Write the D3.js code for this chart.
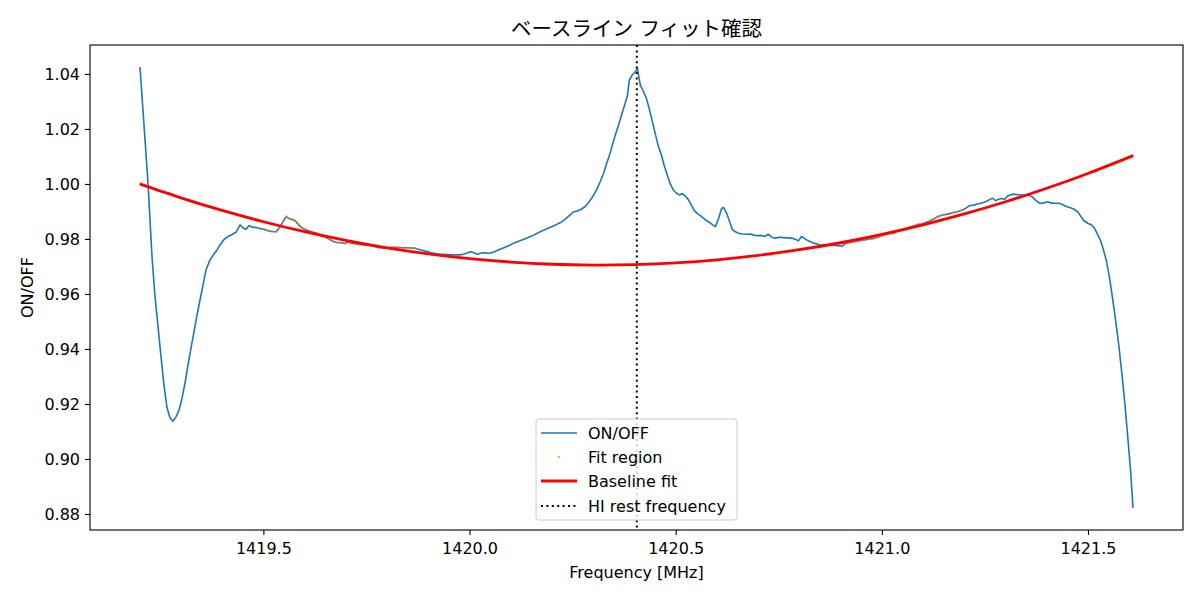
<!DOCTYPE html>
<html><head><meta charset="utf-8">
<script src="https://cdn.jsdelivr.net/npm/d3@7"></script>
<style>
html,body{margin:0;padding:0;background:#fff;}
text{font-family:"DejaVu Sans","Noto Sans CJK JP",sans-serif;}
</style></head>
<body><svg id="chart" width="1200" height="600"></svg>
<script>
// ---- data ----
const freq = [1419.2007,1419.2104,1419.2201,1419.2298,1419.2371,1419.2444,1419.2517,1419.2590,1419.2662,1419.2735,1419.2808,1419.2881,1419.2954,1419.3027,1419.3099,1419.3172,1419.3245,1419.3318,1419.3391,1419.3463,1419.3536,1419.3609,1419.3706,1419.3803,1419.3876,1419.3949,1419.4046,1419.4143,1419.4240,1419.4337,1419.4434,1419.4507,1419.4580,1419.4653,1419.4726,1419.4823,1419.4920,1419.5017,1419.5114,1419.5211,1419.5308,1419.5405,1419.5478,1419.5551,1419.5624,1419.5696,1419.5769,1419.5842,1419.5915,1419.6012,1419.6109,1419.6206,1419.6303,1419.6400,1419.6497,1419.6594,1419.6691,1419.6789,1419.6886,1419.6983,1419.7056,1419.7128,1419.7225,1419.7323,1419.7420,1419.7517,1419.7614,1419.7711,1419.7808,1419.7905,1419.8002,1419.8099,1419.8196,1419.8293,1419.8391,1419.8488,1419.8585,1419.8682,1419.8779,1419.8876,1419.8973,1419.9070,1419.9167,1419.9264,1419.9361,1419.9459,1419.9556,1419.9653,1419.9750,1419.9847,1419.9944,1420.0017,1420.0090,1420.0187,1420.0284,1420.0381,1420.0478,1420.0575,1420.0672,1420.0769,1420.0866,1420.0963,1420.1061,1420.1158,1420.1255,1420.1352,1420.1449,1420.1546,1420.1643,1420.1740,1420.1837,1420.1934,1420.2031,1420.2128,1420.2226,1420.2323,1420.2420,1420.2517,1420.2614,1420.2711,1420.2808,1420.2905,1420.3002,1420.3099,1420.3172,1420.3245,1420.3318,1420.3391,1420.3463,1420.3536,1420.3609,1420.3682,1420.3755,1420.3827,1420.3876,1420.3949,1420.4022,1420.4070,1420.4143,1420.4216,1420.4289,1420.4361,1420.4434,1420.4507,1420.4580,1420.4653,1420.4726,1420.4798,1420.4871,1420.4944,1420.5017,1420.5090,1420.5162,1420.5235,1420.5308,1420.5381,1420.5454,1420.5527,1420.5599,1420.5672,1420.5745,1420.5818,1420.5891,1420.5963,1420.6036,1420.6109,1420.6158,1420.6230,1420.6303,1420.6376,1420.6449,1420.6522,1420.6619,1420.6716,1420.6813,1420.6910,1420.7007,1420.7080,1420.7153,1420.7250,1420.7347,1420.7420,1420.7517,1420.7614,1420.7711,1420.7808,1420.7905,1420.7978,1420.8051,1420.8124,1420.8196,1420.8293,1420.8391,1420.8488,1420.8585,1420.8682,1420.8779,1420.8876,1420.8973,1420.9046,1420.9119,1420.9216,1420.9313,1420.9410,1420.9507,1420.9604,1420.9701,1420.9798,1420.9895,1420.9992,1421.0090,1421.0187,1421.0284,1421.0381,1421.0478,1421.0575,1421.0672,1421.0769,1421.0866,1421.0963,1421.1060,1421.1158,1421.1255,1421.1352,1421.1449,1421.1546,1421.1643,1421.1740,1421.1837,1421.1934,1421.2031,1421.2128,1421.2226,1421.2323,1421.2420,1421.2517,1421.2614,1421.2687,1421.2760,1421.2832,1421.2905,1421.2978,1421.3051,1421.3124,1421.3196,1421.3294,1421.3391,1421.3488,1421.3585,1421.3658,1421.3730,1421.3803,1421.3876,1421.3949,1421.4022,1421.4094,1421.4192,1421.4289,1421.4386,1421.4459,1421.4556,1421.4653,1421.4750,1421.4823,1421.4896,1421.4993,1421.5090,1421.5162,1421.5235,1421.5308,1421.5381,1421.5454,1421.5527,1421.5599,1421.5672,1421.5745,1421.5818,1421.5891,1421.5963,1421.6036,1421.6092];
const onOff = [1.0425,1.0216,1.0005,0.9738,0.9591,0.9483,0.9372,0.9268,0.9187,0.9149,0.9137,0.9153,0.9177,0.9221,0.9276,0.9341,0.9403,0.9463,0.9523,0.9578,0.9633,0.9687,0.9724,0.9745,0.9760,0.9778,0.9798,0.9809,0.9816,0.9825,0.9851,0.9840,0.9835,0.9849,0.9843,0.9842,0.9838,0.9835,0.9830,0.9827,0.9826,0.9844,0.9863,0.9881,0.9874,0.9871,0.9866,0.9854,0.9843,0.9834,0.9829,0.9824,0.9820,0.9812,0.9807,0.9800,0.9791,0.9787,0.9786,0.9784,0.9789,0.9785,0.9783,0.9780,0.9778,0.9777,0.9775,0.9773,0.9768,0.9768,0.9768,0.9769,0.9770,0.9769,0.9768,0.9768,0.9767,0.9766,0.9762,0.9758,0.9754,0.9750,0.9747,0.9745,0.9744,0.9743,0.9742,0.9742,0.9742,0.9744,0.9749,0.9754,0.9751,0.9744,0.9749,0.9750,0.9748,0.9752,0.9758,0.9764,0.9770,0.9776,0.9784,0.9790,0.9795,0.9801,0.9807,0.9813,0.9821,0.9828,0.9834,0.9841,0.9847,0.9854,0.9861,0.9872,0.9885,0.9898,0.9902,0.9908,0.9918,0.9936,0.9957,0.9985,1.0009,1.0036,1.0071,1.0103,1.0141,1.0178,1.0212,1.0248,1.0283,1.0319,1.0377,1.0397,1.0408,1.0420,1.0359,1.0337,1.0312,1.0272,1.0228,1.0181,1.0137,1.0105,1.0065,1.0032,0.9999,0.9978,0.9967,0.9960,0.9965,0.9956,0.9943,0.9923,0.9903,0.9892,0.9885,0.9876,0.9867,0.9860,0.9852,0.9845,0.9872,0.9909,0.9915,0.9896,0.9865,0.9834,0.9826,0.9821,0.9818,0.9817,0.9818,0.9813,0.9812,0.9813,0.9809,0.9817,0.9805,0.9803,0.9806,0.9805,0.9804,0.9803,0.9799,0.9793,0.9809,0.9802,0.9795,0.9788,0.9783,0.9779,0.9778,0.9778,0.9777,0.9776,0.9775,0.9774,0.9784,0.9787,0.9790,0.9792,0.9795,0.9797,0.9800,0.9802,0.9806,0.9812,0.9816,0.9820,0.9821,0.9829,0.9833,0.9838,0.9843,0.9847,0.9852,0.9854,0.9859,0.9865,0.9872,0.9881,0.9886,0.9889,0.9892,0.9896,0.9899,0.9904,0.9911,0.9921,0.9923,0.9927,0.9931,0.9935,0.9943,0.9948,0.9939,0.9944,0.9947,0.9944,0.9956,0.9961,0.9963,0.9961,0.9960,0.9960,0.9958,0.9952,0.9941,0.9932,0.9929,0.9932,0.9935,0.9931,0.9930,0.9930,0.9925,0.9919,0.9914,0.9909,0.9899,0.9883,0.9867,0.9857,0.9851,0.9838,0.9816,0.9793,0.9758,0.9716,0.9655,0.9582,0.9502,0.9418,0.9317,0.9208,0.9084,0.8953,0.8822];
// frequency windows used for the baseline fit
const fitRanges = [[1419.50, 1419.87], [1420.90, 1421.20]];
// baseline fit curve
const fitFreq = [1419.20,1419.30,1419.40,1419.50,1419.60,1419.70,1419.80,1419.90,1420.00,1420.10,1420.20,1420.30,1420.40,1420.50,1420.60,1420.70,1420.80,1420.90,1421.00,1421.10,1421.20,1421.30,1421.40,1421.50,1421.61];
const fitVal = [1.0000,0.99495,0.99037,0.98626,0.98263,0.97948,0.97679,0.97459,0.97285,0.97160,0.97081,0.97050,0.97067,0.97131,0.97243,0.97402,0.97608,0.97862,0.98163,0.98512,0.98909,0.99352,0.99844,1.00382,1.0103];
const hiRest = 1420.40575;
const xTicks = [1419.5, 1420.0, 1420.5, 1421.0, 1421.5];
const yTicks = [0.88, 0.90, 0.92, 0.94, 0.96, 0.98, 1.00, 1.02, 1.04];
const legendLabels = ["ON/OFF", "Fit region", "Baseline fit", "HI rest frequency"];
const titleText = "ベースライン フィット確認";

// ---- layout ----
const svg = d3.select("#chart");
const L = 90, R = 1183, T = 45, B = 530;
const FS = 16;

const allX = freq.concat(fitFreq);
const allY = onOff.concat(fitVal);
const [x0, x1] = d3.extent(allX), [y0, y1] = d3.extent(allY);
const mx = (x1 - x0) * 0.05, my = (y1 - y0) * 0.05;
const x = d3.scaleLinear().domain([x0 - mx, x1 + mx]).range([L, R]);
const y = d3.scaleLinear().domain([y0 - my, y1 + my]).range([B, T]);

const pts = freq.map((f, i) => ({f, v: onOff[i]}));
const fitPts = pts.filter(p => fitRanges.some(r => p.f >= r[0] && p.f <= r[1]));

const g = svg.append("g");
g.append("path").datum(pts)
  .attr("d", d3.line().x(d => x(d.f)).y(d => y(d.v)))
  .attr("fill", "none").attr("stroke", "#1f77b4").attr("stroke-width", 1.6)
  .attr("stroke-linejoin", "round");

g.selectAll("circle.fit").data(fitPts).enter().append("circle")
  .attr("class", "fit").attr("cx", d => x(d.f)).attr("cy", d => y(d.v))
  .attr("r", 1.3).attr("fill", "#ff7f0e").attr("fill-opacity", 0.65);

g.append("path").datum(fitFreq.map((f, i) => ({f, v: fitVal[i]})))
  .attr("d", d3.line().curve(d3.curveNatural).x(d => x(d.f)).y(d => y(d.v)))
  .attr("fill", "none").attr("stroke", "red").attr("stroke-width", 2.8);

g.append("line").attr("x1", x(hiRest)).attr("x2", x(hiRest)).attr("y1", T).attr("y2", B)
  .attr("stroke", "black").attr("stroke-width", 2).attr("stroke-dasharray", "2,3.4");

// axes
const xa = svg.append("g").attr("transform", `translate(0,${B})`)
  .call(d3.axisBottom(x).tickValues(xTicks).tickFormat(d3.format(".1f")).tickSizeOuter(0).tickSize(5).tickPadding(8));
const ya = svg.append("g").attr("transform", `translate(${L},0)`)
  .call(d3.axisLeft(y).tickValues(yTicks).tickFormat(d3.format(".2f")).tickSizeOuter(0).tickSize(5).tickPadding(5));
[xa, ya].forEach(a => {
  a.select(".domain").remove();
  a.selectAll("line").attr("stroke", "black").attr("stroke-width", 1.1);
  a.selectAll("text").attr("font-size", FS).attr("fill", "#000")
    .attr("font-family", '"DejaVu Sans",sans-serif');
});
svg.append("rect").attr("x", L).attr("y", T).attr("width", R - L).attr("height", B - T)
  .attr("fill", "none").attr("stroke", "black").attr("stroke-width", 1.1);

// labels
svg.append("text").attr("x", (L + R) / 2).attr("y", 36).attr("text-anchor", "middle")
  .attr("font-family", '"Noto Sans CJK JP",sans-serif')
  .attr("font-size", 20.5).text(titleText);
svg.append("text").attr("x", (L + R) / 2).attr("y", 578).attr("text-anchor", "middle")
  .attr("font-size", FS).text("Frequency [MHz]");
svg.append("text").attr("transform", `translate(33,${(T + B) / 2}) rotate(-90)`)
  .attr("text-anchor", "middle").attr("font-size", FS).text("ON/OFF");

// legend
const lg = svg.append("g").attr("transform", "translate(536,419)");
lg.append("rect").attr("width", 201).attr("height", 101).attr("rx", 3)
  .attr("fill", "white").attr("fill-opacity", 0.8).attr("stroke", "#cccccc").attr("stroke-width", 1);
const rows = [14, 38, 62, 87];
lg.append("line").attr("x1", 5).attr("x2", 41).attr("y1", rows[0]).attr("y2", rows[0])
  .attr("stroke", "#1f77b4").attr("stroke-width", 1.6);
lg.append("circle").attr("cx", 23).attr("cy", rows[1]).attr("r", 1.3).attr("fill", "#ff7f0e").attr("fill-opacity", 0.65);
lg.append("line").attr("x1", 5).attr("x2", 41).attr("y1", rows[2]).attr("y2", rows[2])
  .attr("stroke", "red").attr("stroke-width", 2.8);
lg.append("line").attr("x1", 5).attr("x2", 41).attr("y1", rows[3]).attr("y2", rows[3])
  .attr("stroke", "black").attr("stroke-width", 2).attr("stroke-dasharray", "2,3.4");
legendLabels.forEach((t, i) => {
  lg.append("text").attr("x", 52).attr("y", rows[i]).attr("dy", "0.35em")
    .attr("font-size", FS).text(t);
});
</script></body></html>
